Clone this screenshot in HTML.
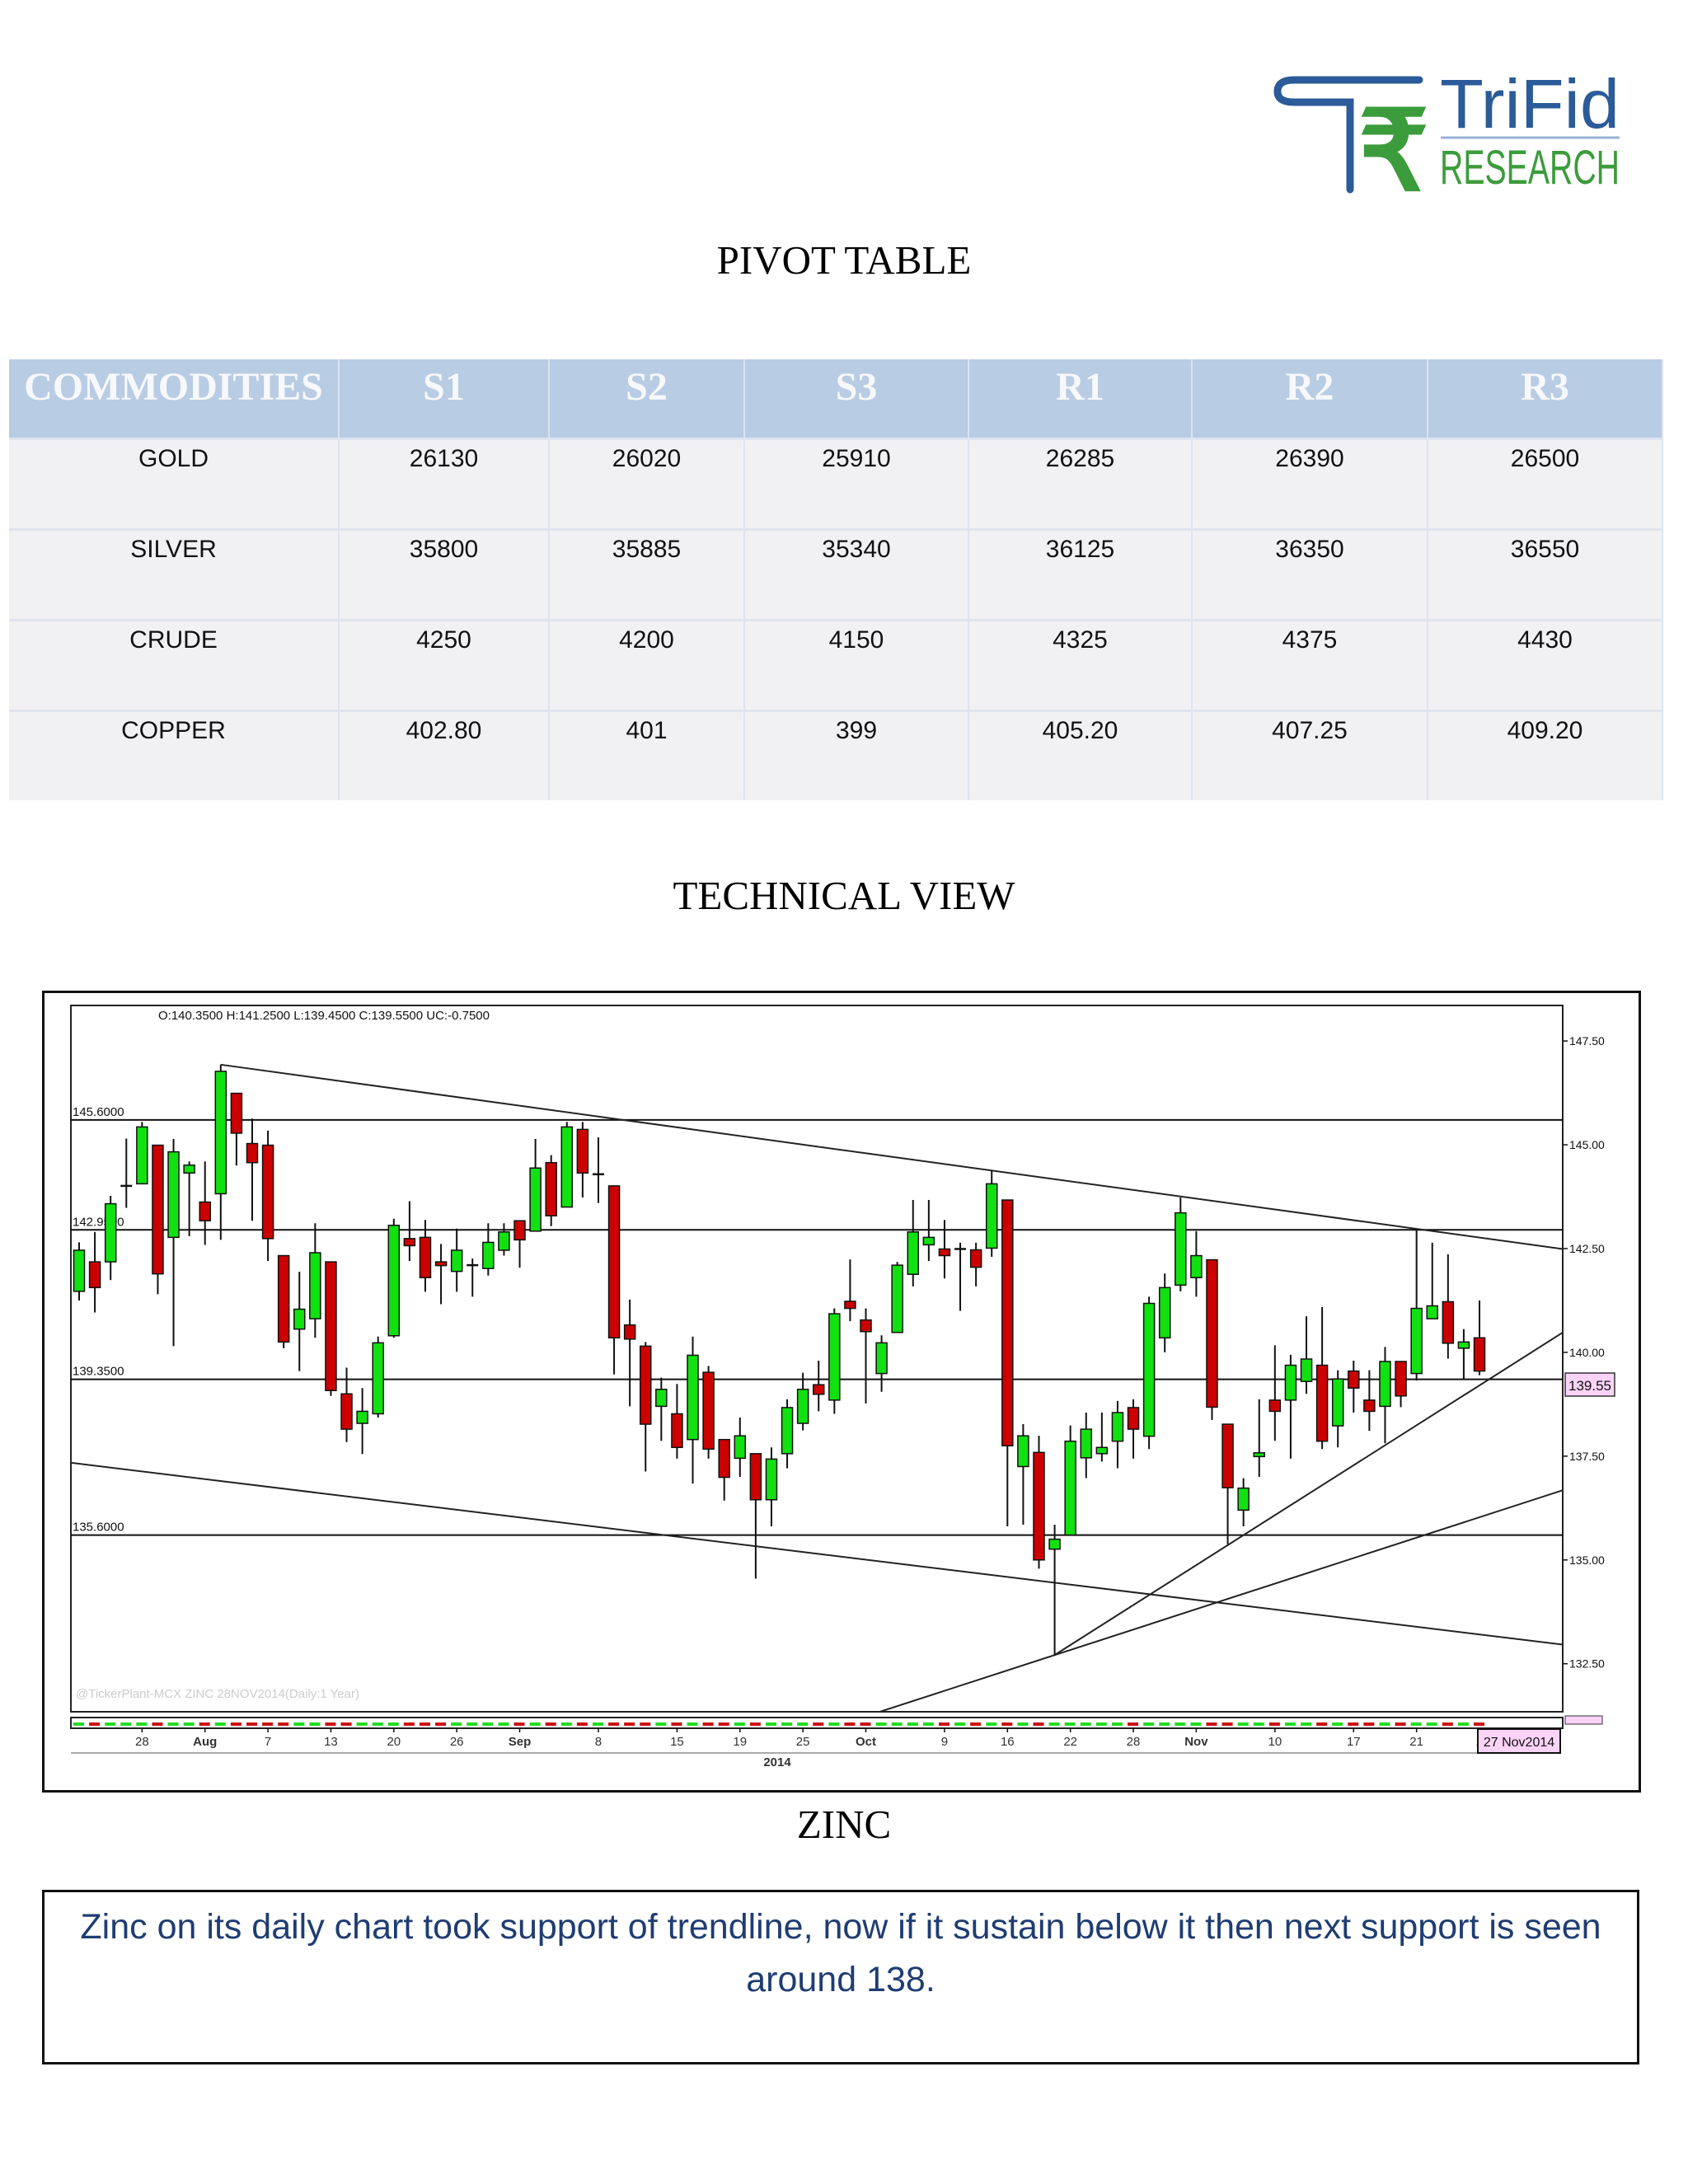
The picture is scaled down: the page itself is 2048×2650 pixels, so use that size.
<!DOCTYPE html>
<html><head><meta charset="utf-8"><title>TriFid Research - Pivot Table & Zinc Technical View</title>
<style>
html,body{margin:0;padding:0;background:#fff;}
body{width:2048px;height:2650px;position:relative;overflow:hidden;font-family:"Liberation Sans",sans-serif;}
.title{position:absolute;left:0;width:2048px;text-align:center;font-family:"Liberation Serif",serif;font-size:49px;color:#000;line-height:60px;}
table{position:absolute;left:11px;top:436px;width:2006px;border-collapse:collapse;table-layout:fixed;}
th{background:#b8cce4;color:#f7f8fb;font-family:"Liberation Serif",serif;font-weight:bold;font-size:48px;height:89px;vertical-align:top;padding:0;padding-top:6px;border-right:2px solid #dbe4f0;}
td{background:#f1f1f3;height:101px;vertical-align:top;text-align:center;font-size:30px;color:#111;padding:0;padding-top:6px;border-right:2px solid #dde3ef;border-top:3px solid #dfe4ee;}
.note{position:absolute;left:51px;top:2293px;width:1938px;height:212px;border:3px solid #111;box-sizing:border-box;text-align:center;font-size:43px;color:#1f3d73;line-height:64px;padding-top:10px;white-space:nowrap;}
</style></head>
<body>
<svg style="position:absolute;left:1530px;top:80px" width="480" height="170" viewBox="0 0 480 170">
<path d="M192 17 H40 Q20 17 20 31 Q20 44 40 44 H108 V150" fill="none" stroke="#2b5b98" stroke-width="9" stroke-linecap="round"/>
<text x="118" y="150" font-family="Liberation Sans,sans-serif" font-size="135" font-weight="bold" fill="#3c9c3c">₹</text>
<text x="217" y="75" font-family="Liberation Sans,sans-serif" font-size="84" fill="#2b5b98" textLength="218" lengthAdjust="spacingAndGlyphs">TriFid</text>
<line x1="218" y1="87" x2="435" y2="87" stroke="#9ab0d4" stroke-width="3"/>
<text x="217" y="143" font-family="Liberation Sans,sans-serif" font-size="58" fill="#3c9c3c" textLength="218" lengthAdjust="spacingAndGlyphs">RESEARCH</text>
</svg>

<div class="title" style="top:286px">PIVOT TABLE</div>

<table>
<colgroup><col style="width:400px"><col style="width:255px"><col style="width:237px"><col style="width:272px"><col style="width:271px"><col style="width:286px"><col style="width:285px"></colgroup>
<tr><th>COMMODITIES</th><th>S1</th><th>S2</th><th>S3</th><th>R1</th><th>R2</th><th>R3</th></tr>
<tr><td>GOLD</td><td>26130</td><td>26020</td><td>25910</td><td>26285</td><td>26390</td><td>26500</td></tr>
<tr><td>SILVER</td><td>35800</td><td>35885</td><td>35340</td><td>36125</td><td>36350</td><td>36550</td></tr>
<tr><td>CRUDE</td><td>4250</td><td>4200</td><td>4150</td><td>4325</td><td>4375</td><td>4430</td></tr>
<tr><td>COPPER</td><td>402.80</td><td>401</td><td>399</td><td>405.20</td><td>407.25</td><td>409.20</td></tr>
</table>

<div class="title" style="top:1057px">TECHNICAL VIEW</div>

<svg id="chart" style="position:absolute;left:0;top:0" width="2048" height="2200" viewBox="0 0 2048 2200" font-family="Liberation Sans,sans-serif">
<defs><clipPath id="plotclip"><rect x="86" y="1220" width="1810" height="857"/></clipPath></defs>
<rect x="52.5" y="1203.5" width="1937" height="970" fill="#fff" stroke="#111" stroke-width="3"/>
<rect x="86" y="1220" width="1810" height="857" fill="#fff" stroke="#222" stroke-width="2"/>
<rect x="86" y="2084" width="1810" height="13" fill="#fff" stroke="#222" stroke-width="2"/>
<line x1="86" y1="2127" x2="1893" y2="2127" stroke="#aaa" stroke-width="2"/>
<text x="192" y="1237" font-size="15" fill="#111">O:140.3500  H:141.2500  L:139.4500  C:139.5500  UC:-0.7500</text>
<text x="92" y="2060" font-size="15" fill="#ccc">@TickerPlant-MCX ZINC 28NOV2014(Daily:1 Year)</text>
<g id="grid"></g><g id="lines" clip-path="url(#plotclip)"></g><g id="candles"></g><g id="vol"></g><g id="axes"></g>
<rect x="1899" y="1666" width="60" height="28" fill="#fbd3f7" stroke="#333" stroke-width="1.5"/>
<text x="1929" y="1687" font-size="17" text-anchor="middle" fill="#111">139.55</text>
<rect x="1899" y="2082" width="45" height="10" fill="#fbd3f7" stroke="#333" stroke-width="1"/>
<text x="943" y="2143" font-size="15" font-weight="bold" text-anchor="middle" fill="#333">2014</text>
</svg>

<div class="title" style="top:2184px">ZINC</div>
<div class="note">Zinc on its daily chart took support of trendline, now if it sustain below it then next support is seen<br>around 138.</div>

<script>
const opens  = [141.47,142.18,142.18,144.01,144.06,144.99,142.77,144.32,143.62,143.82,146.24,145.03,144.99,142.33,140.56,140.81,142.18,139.0,138.29,138.52,140.40,142.74,142.77,142.18,141.95,142.10,142.02,142.46,143.17,142.92,144.57,143.50,145.37,144.29,144.01,140.66,140.15,138.70,138.52,137.90,139.52,137.90,137.45,137.56,136.45,137.56,138.29,139.22,138.85,141.23,140.78,139.49,140.48,141.88,142.59,142.49,142.49,142.47,142.51,143.67,137.25,137.59,135.26,135.60,137.46,137.56,137.86,138.67,137.98,140.35,141.62,141.80,142.23,138.27,136.20,137.49,138.85,138.85,139.30,139.69,138.23,139.55,138.85,138.70,139.78,139.49,140.81,141.22,140.10,140.35];
const highs  = [142.65,142.90,143.77,145.15,145.55,144.99,145.14,144.60,144.60,146.93,146.24,145.63,145.34,142.33,141.94,143.11,142.18,139.63,139.14,140.38,143.22,143.64,143.19,142.61,142.98,142.26,143.11,143.11,143.17,145.14,144.75,145.55,145.55,145.18,144.01,141.27,140.25,139.39,139.24,140.38,139.67,137.90,138.43,137.56,137.71,138.87,139.51,139.80,141.06,142.24,141.06,140.41,142.18,143.67,143.67,143.19,142.64,142.64,144.39,143.67,138.27,137.99,135.85,138.24,138.55,138.55,138.83,138.87,141.34,141.90,143.73,142.92,142.23,138.27,136.97,138.87,140.17,139.94,140.87,141.09,139.57,139.80,139.57,140.13,139.78,142.95,142.64,142.36,140.56,141.25];
const lows   = [141.25,140.96,141.74,143.48,144.06,141.40,140.15,142.80,142.59,142.71,144.50,143.17,142.20,140.10,139.55,140.35,138.95,137.84,137.55,138.43,140.35,142.20,141.46,141.16,141.46,141.34,141.85,142.33,142.04,142.92,143.04,143.50,143.73,143.60,139.47,138.70,137.13,137.87,137.44,136.84,137.44,136.43,137.00,134.55,135.81,137.21,138.12,138.58,138.52,140.75,138.77,139.05,140.48,141.59,142.20,141.78,141.00,141.59,142.30,135.81,135.85,134.79,132.71,135.60,136.97,137.37,137.21,137.44,137.67,140.00,141.47,141.34,138.37,135.38,135.81,137.00,137.87,137.44,139.00,137.67,137.71,138.55,138.11,137.81,138.68,139.32,140.81,139.85,139.36,139.45];
const closes = [142.46,141.56,143.58,144.01,145.43,141.89,144.83,144.51,143.17,146.77,145.28,144.57,142.74,140.25,141.04,142.40,139.08,138.15,138.58,140.23,143.06,142.57,141.80,142.09,142.46,142.10,142.65,142.90,142.71,144.44,143.29,145.43,144.32,144.29,140.35,140.32,138.27,139.11,137.71,139.93,137.67,136.99,137.99,136.45,137.43,138.67,139.11,138.99,140.93,141.06,140.50,140.23,142.10,142.90,142.77,142.33,142.49,142.05,144.06,137.75,137.99,135.00,135.50,137.86,138.15,137.71,138.55,138.15,141.18,141.56,143.36,142.33,138.68,136.74,136.73,137.58,138.58,139.69,139.84,137.86,139.36,139.14,138.58,139.78,138.95,141.06,141.12,140.22,140.25,139.55];
const dateLabels = ["28","Aug","7","13","20","26","Sep","8","15","19","25","Oct","9","16","22","28","Nov","10","17","21","2"];
const dateIdx = [4,8,12,16,20,24,28,33,38,42,46,50,55,59,63,67,71,76,81,85,89];
const priceTicks = [147.5,145,142.5,140,137.5,135,132.5];
const levels = [145.6,142.95,139.35,135.6];
const trendStartIdx = [9,-0.5,62,50.7];
const trendStartPrice = [146.93,137.34,132.71,131.32];
const trendEndIdx = [94.3,94.3,94.3,94.3];
const trendEndPrice = [142.49,132.96,140.48,136.68];

const NS="http://www.w3.org/2000/svg";
const xOf=i=>96+i*19.09;
const yOf=p=>1263.1+(147.5-p)*50.375;
function mk(tag,attrs,parent){const e=document.createElementNS(NS,tag);for(const k in attrs)e.setAttribute(k,attrs[k]);document.getElementById(parent).appendChild(e);return e;}

levels.forEach(v=>{
  const l=mk('line',{x1:86,x2:1896,y1:yOf(v),y2:yOf(v),stroke:'#111','stroke-width':2},'grid');
  
  
  const t=mk('text',{x:88,y:yOf(v)-5,'font-size':15,fill:'#111'},'grid');
  
  
  t.textContent=v.toFixed(4);
});
trendStartIdx.forEach((s,k)=>{
  const l=mk('line',{x1:xOf(s),y1:yOf(trendStartPrice[k]),x2:xOf(trendEndIdx[k]),y2:yOf(trendEndPrice[k]),stroke:'#222','stroke-width':2},'lines');
  
  
});
opens.forEach((o,i)=>{
  const c=closes[i],x=xOf(i),up=c>=o;
  const w=mk('line',{x1:x,x2:x,y1:yOf(highs[i]),y2:yOf(lows[i]),stroke:'#111','stroke-width':2},'candles');
  
  
  const top=yOf(Math.max(o,c)),bot=yOf(Math.min(o,c));
  if(bot-top<2){
    const d=mk('line',{x1:x-7,x2:x+7,y1:top,y2:top,stroke:'#111','stroke-width':2.5},'candles');
    
    
  } else {
    const b=mk('rect',{x:x-6.5,y:top,width:13,height:bot-top,fill:up?'#11e011':'#cc0000',stroke:'#111','stroke-width':1.5},'candles');
    
    
  }
  const v=mk('rect',{x:x-7,y:2090,width:13,height:4,fill:up?'#22dd22':'#cc1111'},'vol');
  
  
});
priceTicks.forEach(p=>{
  mk('line',{x1:1896,x2:1902,y1:yOf(p),y2:yOf(p),stroke:'#111','stroke-width':1.5},'axes');
  const t=mk('text',{x:1904,y:yOf(p)+5,'font-size':14,fill:'#111'},'axes');
  
  
  t.textContent=p.toFixed(2);
});
dateLabels.forEach((lab,k)=>{
  const x=xOf(dateIdx[k]);
  mk('line',{x1:x,x2:x,y1:2097,y2:2102,stroke:'#111','stroke-width':1.5},'axes');
  const t=mk('text',{x:x,y:2118,'font-size':15,'text-anchor':'middle',fill:'#333','font-weight':/[A-Za-z]/.test(lab)?'bold':'normal'},'axes');
  
  
  t.textContent=lab;
});
const db=mk('rect',{x:1793,y:2098,width:100,height:29,fill:'#fbd3f7',stroke:'#111','stroke-width':2},'axes');


const dt=mk('text',{x:1843,y:2119,'font-size':16,'text-anchor':'middle',fill:'#111'},'axes');


dt.textContent='27 Nov2014';
</script>
</body></html>
